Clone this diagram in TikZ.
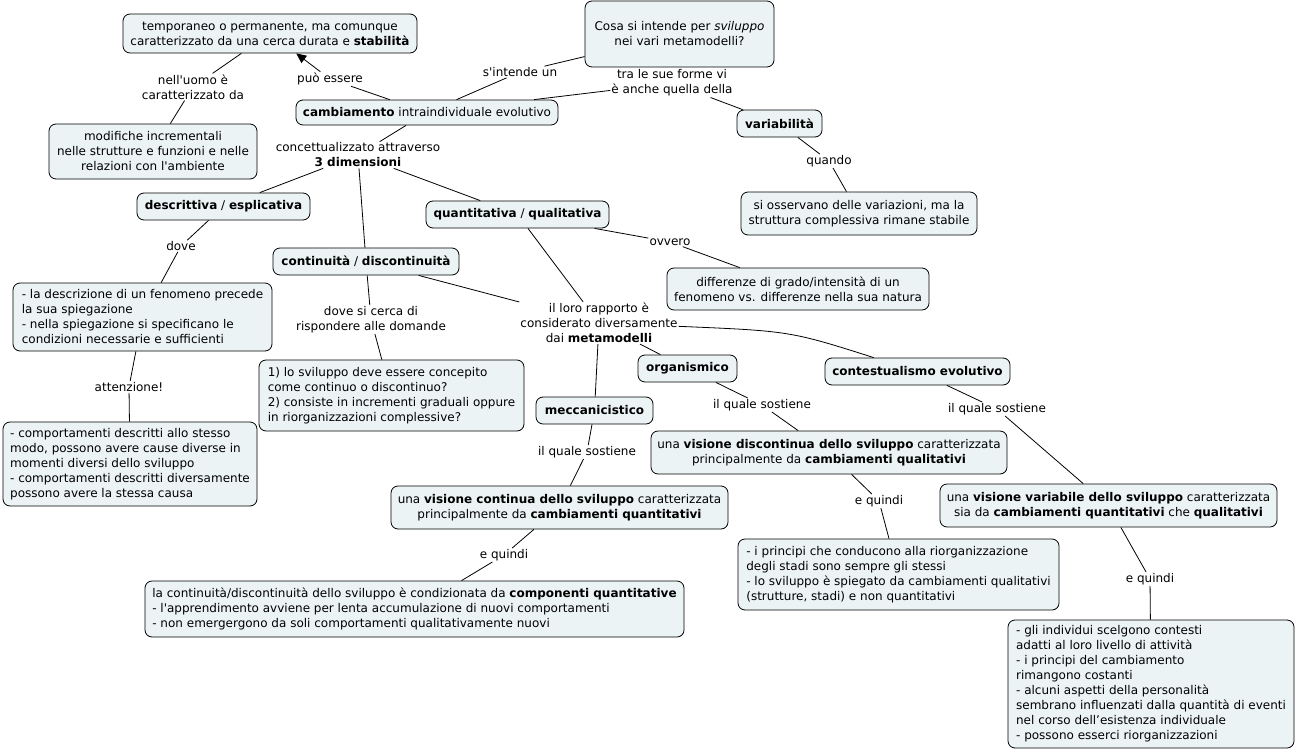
\documentclass[tikz,border=0pt]{standalone}
\usepackage{fontspec}
\setmainfont{DejaVu Sans}
\usepackage{tikz}
\usetikzlibrary{arrows.meta}
\usepackage{xcolor}
\definecolor{fondo}{RGB}{236,243,245}
\newcommand{\ap}{\textquotesingle}

\begin{document}
\begin{tikzpicture}[x=1pt,y=-1pt,>=Stealth,
  font=\fontsize{12}{15}\selectfont,
  concetto/.style={draw,fill=fondo,rounded corners=7pt,line width=0.8pt,inner sep=4pt,align=center},
  frase/.style={inner sep=1pt,align=center},
  lien/.style={line width=0.8pt}]
  \useasboundingbox (0,0) rectangle (1295,752);
  % concetti
  \node[concetto,minimum width=294,minimum height=39] (tempo) at (270,33.5)
    {temporaneo o permanente, ma comunque\\caratterizzato da una cerca durata e \textbf{stabilità}};
  \node[concetto,minimum width=189,minimum height=66] (domanda) at (679.5,34)
    {Cosa si intende per \textit{sviluppo}\\nei vari metamodelli?};
  \node[concetto,minimum width=262,minimum height=25] (camb) at (427,112.5)
    {\textbf{cambiamento} intraindividuale evolutivo};
  \node[concetto,minimum width=208,minimum height=55] (modif) at (153,151.5)
    {modifiche incrementali\\nelle strutture e funzioni e nelle\\relazioni con l\ap ambiente};
  \node[concetto,minimum width=85,minimum height=27] (varia) at (779.5,123.5) {\textbf{variabilità}};
  \node[concetto,minimum width=236,minimum height=43] (osserv) at (859,213.5)
    {si osservano delle variazioni, ma la\\struttura complessiva rimane stabile};
  \node[concetto,minimum width=173,minimum height=27] (descr) at (223.5,206.5)
    {\textbf{descrittiva} / \textbf{esplicativa}};
  \node[concetto,minimum width=183,minimum height=27] (quant) at (517.5,214.5)
    {\textbf{quantitativa} / \textbf{qualitativa}};
  \node[concetto,minimum width=186,minimum height=27] (contin) at (366,261.5)
    {\textbf{continuità} / \textbf{discontinuità}};
  \node[concetto,minimum width=262,minimum height=42] (differ) at (798,289)
    {differenze di grado/intensità di un\\fenomeno vs. differenze nella sua natura};
  \node[concetto,align=left,minimum width=259,minimum height=68] (spieg) at (142.5,317)
    {- la descrizione di un fenomeno precede\\la sua spiegazione\\- nella spiegazione si specificano le\\condizioni necessarie e sufficienti};
  \node[concetto,align=left,minimum width=265,minimum height=71] (domande) at (391.5,395.5)
    {1) lo sviluppo deve essere concepito\\come continuo o discontinuo?\\2) consiste in incrementi graduali oppure\\in riorganizzazioni complessive?};
  \node[concetto,minimum width=99,minimum height=27] (organ) at (687.5,368.5) {\textbf{organismico}};
  \node[concetto,minimum width=185,minimum height=27] (contest) at (917.5,371.5) {\textbf{contestualismo evolutivo}};
  \node[concetto,minimum width=117,minimum height=27] (mecc) at (594.5,410.5) {\textbf{meccanicistico}};
  \node[concetto,align=left,minimum width=254,minimum height=84] (comport) at (130,464)
    {- comportamenti descritti allo stesso\\modo, possono avere cause diverse in\\momenti diversi dello sviluppo\\- comportamenti descritti diversamente\\possono avere la stessa causa};
  \node[concetto,minimum width=356,minimum height=43] (discont) at (829,452.5)
    {una \textbf{visione discontinua dello sviluppo} caratterizzata\\principalmente da \textbf{cambiamenti qualitativi}};
  \node[concetto,minimum width=337,minimum height=43] (continua) at (559.5,507.5)
    {una \textbf{visione continua dello sviluppo} caratterizzata\\principalmente da \textbf{cambiamenti quantitativi}};
  \node[concetto,minimum width=337,minimum height=43] (variab) at (1108.5,505.5)
    {una \textbf{visione variabile dello sviluppo} caratterizzata\\sia da \textbf{cambiamenti quantitativi} che \textbf{qualitativi}};
  \node[concetto,align=left,minimum width=321,minimum height=71] (principi) at (898.5,574.5)
    {- i principi che conducono alla riorganizzazione\\degli stadi sono sempre gli stessi\\- lo sviluppo è spiegato da cambiamenti qualitativi\\(strutture, stadi) e non quantitativi};
  \node[concetto,align=left,minimum width=539,minimum height=56] (condiz) at (414.5,609)
    {la continuità/discontinuità dello sviluppo è condizionata da \textbf{componenti quantitative}\\- l\ap apprendimento avviene per lenta accumulazione di nuovi comportamenti\\- non emergergono da soli comportamenti qualitativamente nuovi};
  \node[concetto,align=left,minimum width=286,minimum height=128] (individui) at (1151,684)
    {- gli individui scelgono contesti\\adatti al loro livello di attività\\- i principi del cambiamento\\rimangono costanti\\- alcuni aspetti della personalità\\sembrano influenzati dalla quantità di eventi\\nel corso dell’esistenza individuale\\- possono esserci riorganizzazioni};
  % frasi di collegamento
  \node[frase] (uomo) at (193,87) {nell\ap uomo è\\caratterizzato da};
  \node[frase] (essere) at (330,79) {può essere};
  \node[frase] (intende) at (520,72) {s\ap intende un};
  \node[frase] (forme) at (672,83) {tra le sue forme vi\\è anche quella della};
  \node[frase] (dimens) at (358,155) {concettualizzato attraverso\\\textbf{3 dimensioni}};
  \node[frase] (quando) at (829,161) {quando};
  \node[frase] (dove) at (181,246) {dove};
  \node[frase] (attenz) at (129,387) {attenzione!};
  \node[frase] (ovvero) at (670,242) {ovvero};
  \node[frase] (cerca) at (371,319.5) {dove si cerca di\\rispondere alle domande};
  \node[frase] (rapporto) at (599,323) {il loro rapporto è\\considerato diversamente\\dai \textbf{metamodelli}};
  \node[frase] (sost1) at (762,405) {il quale sostiene};
  \node[frase] (sost2) at (997,409) {il quale sostiene};
  \node[frase] (sost3) at (587,452) {il quale sostiene};
  \node[frase] (quindi1) at (504,555) {e quindi};
  \node[frase] (quindi2) at (879,501) {e quindi};
  \node[frase] (quindi3) at (1150,579) {e quindi};
  % collegamenti
  \draw[lien] (tempo) -- (uomo) -- (modif);
  \draw[lien,-{Triangle[length=10pt,width=9pt]}] (camb) -- (essere) -- (tempo);
  \draw[lien] (domanda) -- (intende) -- (camb);
  \draw[lien] (camb) -- (forme) -- (varia);
  \draw[lien] (varia) -- (quando) -- (osserv);
  \draw[lien] (camb) -- (dimens);
  \draw[lien] (dimens) -- (descr);
  \draw[lien] (dimens) -- (contin);
  \draw[lien] (dimens) -- (quant);
  \draw[lien] (descr) -- (dove) -- (spieg);
  \draw[lien] (spieg) -- (attenz) -- (comport);
  \draw[lien] (quant) -- (ovvero) -- (differ);
  \draw[lien] (contin) -- (cerca) -- (domande);
  \draw[lien] (contin) -- (rapporto);
  \draw[lien] (quant) -- (rapporto);
  \draw[lien] (rapporto) -- (organ);
  \draw[lien] (rapporto) -- (mecc);
  \draw[lien] (rapporto) .. controls (790,331) .. (contest);
  \draw[lien] (organ) -- (sost1) -- (discont);
  \draw[lien] (contest) -- (sost2) -- (variab);
  \draw[lien] (mecc) -- (sost3) -- (continua);
  \draw[lien] (continua) -- (quindi1) -- (condiz);
  \draw[lien] (discont) -- (quindi2) -- (principi);
  \draw[lien] (variab) -- (quindi3) -- (individui);
\end{tikzpicture}
\end{document}
